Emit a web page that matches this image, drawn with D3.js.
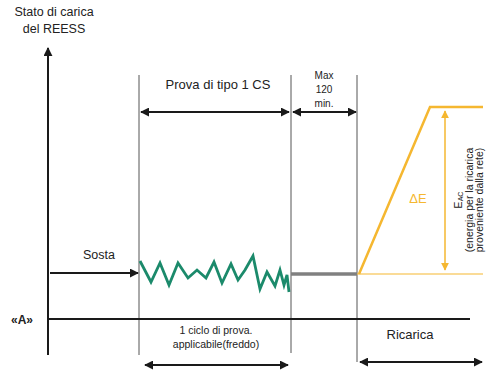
<!DOCTYPE html>
<html>
<head>
<meta charset="utf-8">
<script src="https://cdn.jsdelivr.net/npm/d3@7"></script>
<style>
  body { margin: 0; background: #fff; }
  text { font-family: "Liberation Sans", Arial, sans-serif; fill: #222; }
</style>
</head>
<body>
<svg id="root" width="486" height="370"></svg>
<script>
// phase boundaries (time units)
const phaseEdges = [0, 91, 243, 309, 435];
// cold test cycle: state of charge along time
const cycleT = [92, 103, 112, 121, 130, 140, 149, 158, 166, 174, 183, 190, 197, 205, 212, 219, 227, 232, 236, 239, 241];
const cycleSoc = [58, 37, 56, 34, 56, 41, 49, 41, 57, 36, 55, 39, 49, 63, 30, 47, 33, 49, 34, 44, 27];
const socStart = 45;
const socFull = 212;
const recharge = [{ t: 311, soc: socStart }, { t: 382, soc: socFull }, { t: 435, soc: socFull }];

const root = d3.select('#root');
const x = d3.scaleLinear().domain([0, 435]).range([48, 483]);
const y = d3.scaleLinear().domain([0, 250]).range([319, 69]);

const black = '#1a1a1a';
const orange = '#f5b730';
const green = '#1b8a6b';

const defs = root.append('defs');
const mk = (id, color, size) => {
    defs.append('marker')
        .attr('id', id).attr('viewBox', '0 0 10 10')
        .attr('refX', 9).attr('refY', 5)
        .attr('markerWidth', size).attr('markerHeight', size)
        .attr('markerUnits', 'userSpaceOnUse')
        .attr('orient', 'auto-start-reverse')
        .append('path').attr('d', 'M0,0 L10,5 L0,10 z').attr('fill', color);
};
mk('ab', black, 9);
mk('ao', orange, 8);

const line = (x1, y1, x2, y2, stroke, w) => root.append('line')
    .attr('x1', x1).attr('y1', y1).attr('x2', x2).attr('y2', y2)
    .attr('stroke', stroke).attr('stroke-width', w);

// phase dividers
line(x(phaseEdges[1]), 75, x(phaseEdges[1]), 355, '#555', 1);
line(x(phaseEdges[2]), 75, x(phaseEdges[2]), 353, '#555', 1);
line(x(phaseEdges[3]), 75, x(phaseEdges[3]), 362, '#555', 1);

// axes
line(x(0), 355, x(0), 48, black, 2).attr('marker-end', 'url(#ab)');
line(x(0), y(0), 470, y(0), black, 2);

// top arrows
line(x(phaseEdges[1]) + 2, 112, x(phaseEdges[2]) - 2, 112, black, 2)
    .attr('marker-start', 'url(#ab)').attr('marker-end', 'url(#ab)');
line(x(phaseEdges[2]) + 2, 112, x(phaseEdges[3]) - 1, 112, black, 2)
    .attr('marker-start', 'url(#ab)').attr('marker-end', 'url(#ab)');

// Sosta arrow
line(x(0) + 2, y(socStart) - 1, x(phaseEdges[1]) - 1, y(socStart) - 1, black, 2)
    .attr('marker-end', 'url(#ab)');

// bottom arrows
line(x(phaseEdges[1]) + 6, 365, x(phaseEdges[2]) - 3, 365, black, 2)
    .attr('marker-start', 'url(#ab)').attr('marker-end', 'url(#ab)');
line(x(phaseEdges[3]) + 3, 362, 482, 362, black, 2)
    .attr('marker-start', 'url(#ab)').attr('marker-end', 'url(#ab)');

// cycle zigzag
root.append('path')
    .datum(d3.zip(cycleT, cycleSoc))
    .attr('d', d3.line().x(d => x(d[0])).y(d => y(d[1])))
    .attr('fill', 'none').attr('stroke', green).attr('stroke-width', 2.8)
    .attr('stroke-linejoin', 'miter');

// max 120 min plateau
line(x(phaseEdges[2]), y(socStart), x(phaseEdges[3]), y(socStart), '#808080', 3.5);

// recharge
line(x(phaseEdges[3]), y(socStart), 483, y(socStart), orange, 1.2);
root.append('path')
    .datum(recharge)
    .attr('d', d3.line().x(d => x(d.t)).y(d => y(d.soc)))
    .attr('fill', 'none').attr('stroke', orange).attr('stroke-width', 2.5);
line(445, y(socFull) + 4, 445, y(socStart) - 4, orange, 1.5)
    .attr('marker-start', 'url(#ao)').attr('marker-end', 'url(#ao)');

// texts
const txt = (s, tx, ty, size, anchor) => root.append('text')
    .attr('x', tx).attr('y', ty).attr('font-size', size)
    .attr('text-anchor', anchor || 'middle').text(s);

txt('Stato di carica', 54, 16, 12.5);
txt('del REESS', 54, 33, 12.5);
txt('Prova di tipo 1 CS', 218, 89, 13);
txt('Max', 324, 79, 10);
txt('120', 324, 93, 10);
txt('min.', 324, 107, 10);
txt('Sosta', 99, 259, 12.5);
txt('«A»', 22, 324, 12).attr('font-weight', 'bold');
txt('1 ciclo di prova.', 216, 334, 10.5);
txt('applicabile(freddo)', 216, 348, 10.5);
txt('Ricarica', 410, 339, 13);
txt('ΔE', 418, 203, 13).style('fill', orange);

// rotated label next to the E_AC arrow, read bottom to top
const rot = root.append('g').attr('transform', 'translate(462,200) rotate(-90)');
const t1 = rot.append('text').attr('x', 0).attr('y', 0).attr('font-size', 10.5)
    .attr('text-anchor', 'middle');
t1.append('tspan').text('E');
t1.append('tspan').attr('font-size', 7).attr('dy', 1).text('AC');
rot.append('text').attr('x', 0).attr('y', 11).attr('font-size', 10.5)
    .attr('text-anchor', 'middle').text('(energia per la ricarica');
rot.append('text').attr('x', 0).attr('y', 21).attr('font-size', 10.5)
    .attr('text-anchor', 'middle').text('proveniente dalla rete)');
</script>
</body>
</html>
